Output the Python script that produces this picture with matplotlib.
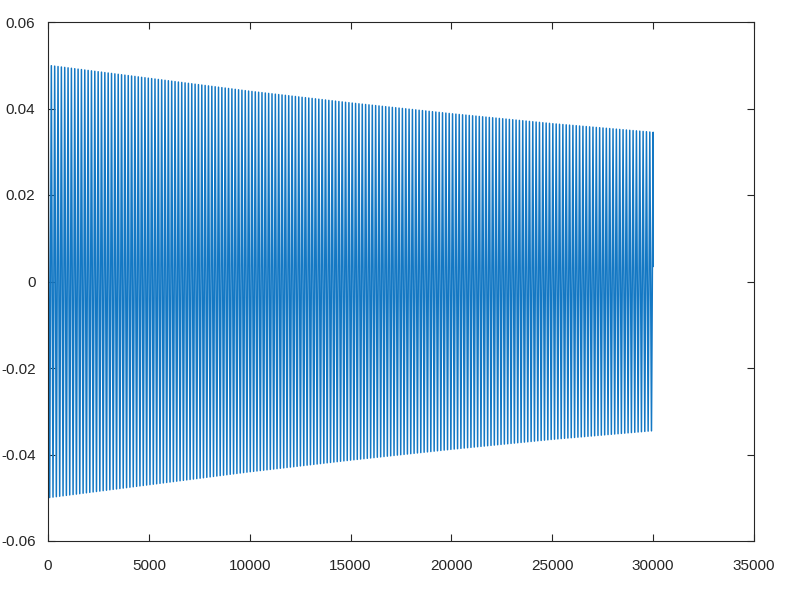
import numpy as np
import matplotlib
matplotlib.use("Agg")
import matplotlib.pyplot as plt

# Values
env_x = [0, 5000, 10000, 15000, 20000, 25000, 30000]          # sample index
env_amp = [0.0500, 0.0470, 0.0440, 0.0413, 0.0388, 0.0365, 0.0345]  # peak amplitude
n_samples = 30000
n_cycles = 181            # visible oscillation cycles
end_value = 0.0035        # last sample value
x_ticks = [0, 5000, 10000, 15000, 20000, 25000, 30000, 35000]
y_ticks = [-0.06, -0.04, -0.02, 0, 0.02, 0.04, 0.06]
y_labels = ["-0.06", "-0.04", "-0.02", "0", "0.02", "0.04", "0.06"]

# peaks of the oscillation (alternating sign), joined by straight segments
t = np.linspace(0, n_samples, 2 * n_cycles + 1)
env = np.interp(t, env_x, env_amp)
sign = np.where(np.arange(t.size) % 2 == 0, 1.0, -1.0)
y = env * sign
t = np.append(t, n_samples + 1)
y = np.append(y, end_value)

plt.rcParams['font.family'] = ['Liberation Sans', 'DejaVu Sans']
fig = plt.figure(figsize=(7.98, 6.0), dpi=100)
ax = fig.add_axes([48/798, 1 - 541/600, (754 - 48)/798, (541 - 22)/600])
ax.plot(t, y, color='#1478C4', linewidth=1.1)
ax.set_xlim(0, 35000)
ax.set_ylim(-0.06, 0.06)
ax.set_xticks(x_ticks)
ax.set_xticklabels([str(v) for v in x_ticks])
ax.set_yticks(y_ticks)
ax.set_yticklabels(y_labels)
ax.tick_params(direction='in', length=5, width=0.8, top=True, right=True,
               labelsize=11, colors='#262626')
ax.tick_params(axis='x', pad=13)
ax.tick_params(axis='y', pad=9)
for s in ax.spines.values():
    s.set_color('#262626')
    s.set_linewidth(0.8)
fig.savefig('out.png', dpi=100)
